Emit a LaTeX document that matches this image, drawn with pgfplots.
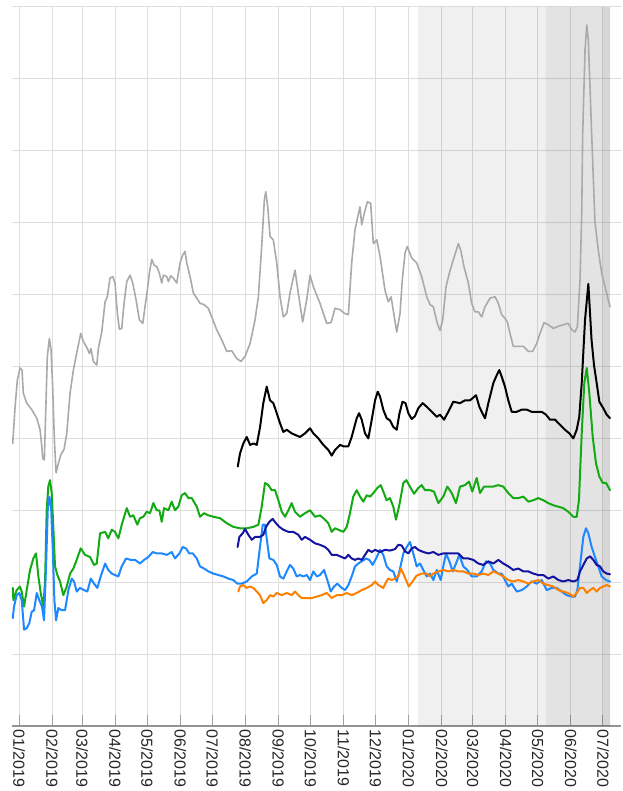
\documentclass[border=0pt]{standalone}
\usepackage{pgfplots}
\pgfplotsset{compat=1.18}
\usepackage{fontspec}
\setmainfont{Liberation Sans}
\definecolor{cgray}{RGB}{170,170,170}
\definecolor{cgreen}{RGB}{20,170,20}
\definecolor{cblue}{RGB}{30,136,255}
\definecolor{cnavy}{RGB}{20,20,160}
\definecolor{corange}{RGB}{255,128,0}
\begin{document}
\begin{tikzpicture}
\begin{axis}[
  at={(0,0)}, anchor=south west, scale only axis,
  width=609pt, height=719pt,
  xmin=-6.6, xmax=563.9, ymin=0, ymax=10,
  axis x line*=bottom, axis y line*=left,
  x axis line style={draw=gray!85, line width=1.5pt, -},
  y axis line style={draw=none},
  xtick={0,31,59,90,120,151,181,212,243,273,304,334,365,396,425,456,486,517,547},
  xticklabels={01/2019,02/2019,03/2019,04/2019,05/2019,06/2019,07/2019,08/2019,09/2019,10/2019,11/2019,12/2019,01/2020,02/2020,03/2020,04/2020,05/2020,06/2020,07/2020},
  ytick={1,2,3,4,5,6,7,8,9,10},
  yticklabels={},
  ytick style={draw=none},
  xtick align=inside,
  major tick length=11pt,
  x tick style={draw=gray!75, line width=1pt},
  grid=major,
  major grid style={draw=black!13, line width=1pt},
  xticklabel style={rotate=-90, anchor=west, font=\fontsize{16}{18}\selectfont, text=black!85},
  every axis plot/.append style={line join=round, line cap=round},
  clip=false,
]
% shaded periods
\addplot[draw=none, fill=black, fill opacity=0.06] coordinates {(373.7,0) (373.7,10) (493.6,10) (493.6,0)} \closedcycle;
\addplot[draw=none, fill=black, fill opacity=0.11] coordinates {(493.6,0) (493.6,10) (547,10) (547,0)} \closedcycle;
\addplot[draw=none, fill=black, fill opacity=0.16] coordinates {(547,0) (547,10) (553.6,10) (553.6,0)} \closedcycle;

% gray
\addplot[cgray, line width=1.6pt] coordinates {
(-5.9,3.93) (-3.7,4.44) (-1.6,4.81) (0.9,4.98) (2.8,4.95) (4.0,4.63) (7.2,4.49) (11.9,4.40) (16.6,4.28) (19.7,4.12) (21.3,3.89) (22.2,3.72) (23.7,3.70) (25.3,4.53) (26.5,5.14) (28.4,5.39) (30.0,5.23) (31.6,4.67) (33.1,3.98) (34.7,3.52) (36.8,3.65) (39.1,3.77) (42.2,3.85) (44.7,4.07) (47.8,4.63) (50.9,4.95) (54.6,5.23) (57.8,5.46) (60.2,5.35) (64.0,5.25) (65.9,5.18) (67.4,5.25) (69.6,5.07) (72.8,5.02) (74.3,5.25) (77.5,5.48) (80.6,5.90) (82.7,5.97) (85.2,6.23) (87.8,6.25) (89.9,6.16) (92.1,5.74) (94.0,5.52) (96.2,5.53) (98.4,5.88) (100.9,6.18) (104.0,6.27) (106.5,6.16) (109.6,5.93) (112.7,5.65) (115.9,5.60) (118.0,5.83) (120.2,6.06) (122.1,6.30) (124.3,6.49) (126.5,6.41) (129.0,6.39) (131.4,6.30) (133.7,6.16) (135.2,6.27) (138.4,6.25) (139.9,6.18) (142.1,6.26) (144.5,6.23) (147.7,6.16) (150.8,6.44) (153.3,6.55) (155.5,6.60) (157.1,6.44) (160.2,6.25) (163.3,6.02) (166.5,5.95) (169.5,5.88) (173.3,5.86) (177.3,5.81) (180.5,5.69) (185.2,5.51) (189.9,5.37) (194.6,5.21) (199.2,5.22) (203.9,5.11) (207.9,5.07) (211.7,5.14) (216.4,5.32) (221.1,5.65) (224.2,5.97) (227.3,6.67) (229.8,7.32) (231.1,7.43) (233.0,7.22) (235.1,6.81) (238.2,6.76) (241.4,6.44) (244.5,5.97) (247.6,5.69) (250.8,5.74) (253.8,6.02) (258.5,6.34) (261.6,6.02) (265.7,5.62) (269.5,5.93) (272.6,6.27) (275.7,6.11) (281.9,5.88) (288.2,5.60) (292.3,5.61) (296.0,5.81) (300.7,5.79) (304.7,5.74) (308.5,5.72) (311.6,6.44) (314.7,6.90) (317.3,7.08) (319.4,7.22) (321.0,6.97) (323.4,7.13) (326.3,7.29) (329.4,7.27) (331.9,6.71) (335.1,6.76) (338.2,6.53) (342.8,6.06) (345.9,5.90) (348.5,5.97) (351.0,5.74) (353.8,5.48) (356.9,5.74) (359.0,6.20) (361.6,6.58) (363.7,6.67) (367.8,6.51) (372.5,6.44) (377.2,6.25) (381.9,5.97) (385.0,5.86) (388.1,5.83) (391.8,5.60) (394.4,5.50) (396.9,5.65) (400.0,6.11) (403.1,6.30) (406.3,6.46) (409.3,6.60) (411.5,6.71) (413.7,6.62) (416.8,6.39) (420.9,6.16) (424.0,5.88) (427.1,5.76) (430.2,5.76) (433.4,5.69) (436.5,5.83) (441.2,5.95) (445.9,5.97) (449.0,5.88) (452.1,5.72) (455.2,5.67) (457.4,5.62) (459.9,5.46) (463.0,5.28) (467.7,5.28) (472.4,5.28) (477.1,5.21) (481.2,5.21) (484.9,5.32) (488.0,5.46) (491.8,5.61) (495.8,5.58) (500.5,5.53) (505.2,5.56) (509.8,5.58) (514.5,5.60) (517.7,5.51) (520.8,5.48) (523.0,5.55) (525.5,6.20) (527.1,7.13) (528.0,8.24) (530.2,9.40) (531.8,9.75) (533.3,9.54) (536.4,8.24) (539.5,7.01) (542.6,6.62) (545.8,6.30) (548.9,6.11) (553.6,5.83)
};

% black
\addplot[black, line width=2pt] coordinates {
(204.9,3.61) (207.0,3.79) (210.1,3.93) (213.3,4.02) (216.4,3.91) (219.5,3.93) (222.7,3.91) (225.8,4.16) (228.8,4.49) (232.0,4.72) (235.1,4.53) (238.2,4.49) (241.4,4.35) (244.5,4.21) (247.6,4.09) (250.8,4.12) (255.4,4.07) (258.5,4.05) (263.2,4.02) (267.9,4.07) (272.6,4.14) (275.7,4.07) (280.4,4.00) (285.0,3.91) (289.7,3.84) (292.9,3.76) (296.0,3.84) (300.7,3.91) (303.8,3.89) (308.5,3.89) (311.6,4.02) (316.3,4.28) (318.5,4.35) (321.0,4.26) (324.1,4.07) (327.2,4.00) (330.4,4.26) (333.5,4.53) (336.0,4.65) (338.2,4.58) (341.2,4.40) (344.4,4.28) (347.5,4.25) (350.6,4.16) (353.8,4.12) (356.4,4.35) (359.2,4.51) (362.0,4.49) (364.7,4.35) (367.8,4.27) (370.9,4.31) (374.0,4.42) (378.1,4.49) (381.9,4.44) (386.6,4.37) (391.3,4.30) (394.4,4.33) (398.1,4.26) (402.1,4.37) (406.8,4.51) (413.1,4.49) (417.8,4.53) (422.5,4.53) (428.1,4.60) (431.2,4.44) (433.4,4.37) (436.5,4.28) (439.6,4.49) (444.3,4.77) (447.5,4.88) (449.9,4.95) (452.1,4.86) (455.2,4.72) (458.3,4.53) (461.5,4.37) (466.2,4.37) (470.9,4.40) (475.6,4.40) (480.2,4.37) (484.9,4.37) (489.6,4.37) (493.6,4.33) (497.4,4.26) (502.1,4.26) (506.8,4.19) (511.4,4.12) (515.5,4.07) (519.2,4.00) (522.4,4.12) (524.8,4.30) (527.1,4.77) (530.2,5.65) (533.3,6.15) (536.3,5.37) (538.6,5.02) (541.1,4.77) (543.6,4.51) (547.3,4.42) (550.5,4.33) (553.6,4.28)
};

% green
\addplot[cgreen, line width=2pt] coordinates {
(-5.9,1.92) (-5.3,1.75) (-2.2,1.89) (0.9,1.94) (2.5,1.87) (4.7,1.66) (7.2,1.89) (10.3,2.17) (13.4,2.33) (15.9,2.40) (18.1,2.08) (20.3,1.85) (22.8,1.66) (24.4,2.03) (25.9,3.00) (27.4,3.33) (29.0,3.42) (30.6,3.24) (32.1,2.77) (33.7,2.22) (35.9,2.10) (38.4,2.01) (41.5,1.82) (44.7,1.94) (47.8,2.12) (50.9,2.19) (54.0,2.31) (57.8,2.47) (61.8,2.38) (66.5,2.35) (70.3,2.24) (72.8,2.26) (75.9,2.68) (80.6,2.70) (83.6,2.61) (86.8,2.73) (89.9,2.70) (93.0,2.61) (96.2,2.80) (100.9,3.03) (104.0,2.91) (107.1,2.93) (110.8,2.80) (113.3,2.89) (116.4,2.91) (119.6,2.98) (122.7,2.96) (125.8,3.10) (129.0,3.00) (131.4,3.00) (133.7,2.84) (135.8,3.03) (139.9,3.00) (143.0,3.12) (146.1,3.00) (149.2,3.05) (152.4,3.21) (155.5,3.24) (158.6,3.17) (161.8,3.17) (166.5,3.05) (169.5,2.91) (173.3,2.96) (177.3,2.93) (182.0,2.91) (188.3,2.89) (194.6,2.82) (200.7,2.77) (207.0,2.75) (213.3,2.75) (219.5,2.77) (224.2,2.80) (227.3,3.05) (230.4,3.38) (233.5,3.35) (236.7,3.28) (239.8,3.28) (242.9,3.14) (246.1,2.98) (249.2,2.91) (252.3,3.00) (255.4,3.10) (258.5,2.98) (263.2,2.91) (267.9,2.96) (272.6,3.00) (277.3,2.91) (281.9,2.93) (286.6,2.87) (289.7,2.82) (292.9,2.70) (296.0,2.75) (299.1,2.73) (303.8,2.70) (307.0,2.77) (310.0,2.96) (313.1,3.19) (316.3,3.28) (319.4,3.19) (322.5,3.12) (325.7,3.21) (328.8,3.19) (331.9,3.24) (335.6,3.31) (338.8,3.35) (341.2,3.26) (344.4,3.14) (347.5,3.17) (350.6,3.05) (353.1,2.87) (356.2,3.07) (360.0,3.38) (362.8,3.42) (366.5,3.32) (370.0,3.23) (374.0,3.31) (377.2,3.35) (380.3,3.28) (385.0,3.28) (388.7,3.26) (392.8,3.10) (397.4,3.19) (401.2,3.33) (405.3,3.24) (409.3,3.10) (413.1,3.33) (417.8,3.35) (421.5,3.40) (424.6,3.26) (428.7,3.45) (431.8,3.24) (435.6,3.33) (439.6,3.33) (444.3,3.33) (449.0,3.35) (453.6,3.33) (458.3,3.24) (463.0,3.17) (467.7,3.17) (472.4,3.19) (477.1,3.12) (481.7,3.14) (486.4,3.17) (491.1,3.14) (495.8,3.10) (500.5,3.07) (505.2,3.05) (509.8,3.03) (514.5,2.98) (519.2,2.91) (522.4,2.91) (524.5,3.14) (527.1,4.07) (529.5,4.77) (531.8,4.98) (534.2,4.63) (537.4,4.02) (540.5,3.65) (543.6,3.47) (546.8,3.38) (549.9,3.38) (553.6,3.28)
};

% light blue
\addplot[cblue, line width=2pt] coordinates {
(-5.9,1.50) (-4.7,1.66) (-2.2,1.82) (0.3,1.85) (2.5,1.75) (4.7,1.34) (7.2,1.36) (9.6,1.43) (11.9,1.59) (14.1,1.61) (16.6,1.85) (19.0,1.75) (21.5,1.66) (23.4,1.47) (25.3,2.22) (26.9,3.00) (28.4,3.19) (30.0,3.05) (31.6,2.45) (33.1,1.75) (34.7,1.47) (36.8,1.64) (40.0,1.61) (43.1,1.61) (46.2,1.89) (49.4,2.05) (51.5,2.01) (54.0,1.87) (57.1,1.92) (60.9,1.89) (64.0,1.87) (67.2,2.05) (70.3,1.98) (73.3,1.92) (76.5,2.08) (80.6,2.26) (83.6,2.17) (86.8,2.12) (89.9,2.10) (93.0,2.08) (96.2,2.22) (100.2,2.33) (104.6,2.31) (108.7,2.31) (113.3,2.26) (117.1,2.31) (121.1,2.35) (125.2,2.42) (129.0,2.40) (133.7,2.40) (138.4,2.38) (143.0,2.42) (146.1,2.33) (150.2,2.40) (153.3,2.49) (156.4,2.47) (159.5,2.40) (162.7,2.40) (166.5,2.33) (169.5,2.22) (173.3,2.19) (177.3,2.15) (182.0,2.12) (186.7,2.10) (191.4,2.08) (196.1,2.05) (200.7,2.03) (204.5,1.98) (208.6,1.98) (213.3,2.01) (218.0,2.08) (222.7,2.12) (225.7,2.49) (228.3,2.80) (230.4,2.80) (232.6,2.54) (234.5,2.33) (238.2,2.31) (241.4,2.24) (244.5,2.08) (247.6,2.05) (250.8,2.15) (253.8,2.24) (256.9,2.19) (260.1,2.08) (263.2,2.10) (266.3,2.08) (269.5,2.10) (272.6,2.03) (275.7,2.15) (278.9,2.08) (281.9,2.10) (285.7,2.17) (288.8,2.03) (292.0,1.87) (295.1,1.94) (298.2,1.98) (302.3,1.92) (305.4,1.89) (308.5,1.96) (311.6,2.08) (314.7,2.22) (317.8,2.26) (321.0,2.29) (325.0,2.33) (328.1,2.31) (331.3,2.24) (335.1,2.35) (338.2,2.45) (341.2,2.38) (344.4,2.22) (347.5,2.17) (350.6,2.15) (353.8,2.01) (356.9,2.19) (360.0,2.40) (363.2,2.49) (366.2,2.56) (369.3,2.40) (372.5,2.22) (375.6,2.26) (378.7,2.17) (381.9,2.08) (385.0,2.12) (388.1,2.03) (391.3,2.17) (395.0,2.03) (397.4,2.22) (400.0,2.40) (403.1,2.29) (406.3,2.15) (409.3,2.26) (412.4,2.38) (416.2,2.22) (419.9,2.17) (424.0,2.08) (428.7,2.08) (433.4,2.15) (437.4,2.29) (441.2,2.26) (444.3,2.17) (449.0,2.12) (452.1,2.12) (455.2,2.03) (458.3,1.94) (461.5,1.98) (466.2,1.87) (470.9,1.89) (475.6,1.94) (480.2,2.01) (484.9,1.98) (489.6,2.03) (494.3,1.89) (499.0,1.92) (503.7,1.92) (508.3,1.87) (513.0,1.82) (517.7,1.80) (520.8,1.80) (523.0,1.89) (525.5,2.22) (528.6,2.63) (531.1,2.75) (533.3,2.68) (536.4,2.49) (539.5,2.35) (542.6,2.22) (545.8,2.08) (549.8,2.03) (553.6,2.01)
};

% navy
\addplot[cnavy, line width=2pt] coordinates {
(204.7,2.49) (206.4,2.63) (209.5,2.68) (211.7,2.74) (214.8,2.66) (218.0,2.59) (221.1,2.63) (225.7,2.63) (228.8,2.66) (231.4,2.77) (234.5,2.84) (237.6,2.88) (240.7,2.82) (243.8,2.77) (247.6,2.73) (252.3,2.70) (256.9,2.70) (261.6,2.66) (264.8,2.59) (267.9,2.63) (272.6,2.59) (277.3,2.54) (281.9,2.52) (286.6,2.49) (289.7,2.45) (292.9,2.38) (297.6,2.38) (302.3,2.35) (305.4,2.33) (308.5,2.38) (311.6,2.33) (314.7,2.31) (317.8,2.33) (321.0,2.31) (324.1,2.38) (327.2,2.45) (330.4,2.42) (333.5,2.45) (338.2,2.42) (342.8,2.45) (347.5,2.44) (352.2,2.46) (355.3,2.52) (358.5,2.51) (361.6,2.43) (364.7,2.40) (367.8,2.47) (370.9,2.49) (374.0,2.45) (378.7,2.42) (383.4,2.40) (388.1,2.42) (392.8,2.38) (397.4,2.40) (402.1,2.40) (406.8,2.40) (411.5,2.40) (416.2,2.33) (420.9,2.33) (425.6,2.31) (430.2,2.26) (434.9,2.24) (439.6,2.29) (444.3,2.26) (449.0,2.31) (453.6,2.26) (458.3,2.22) (463.0,2.17) (467.7,2.19) (472.4,2.15) (477.1,2.15) (481.7,2.12) (486.4,2.10) (491.1,2.10) (495.8,2.05) (500.5,2.08) (505.2,2.03) (509.8,2.01) (514.5,2.03) (519.2,2.01) (523.0,2.03) (525.5,2.15) (528.6,2.24) (531.8,2.33) (534.9,2.36) (538.0,2.31) (541.1,2.24) (544.2,2.22) (547.3,2.15) (550.5,2.12) (553.6,2.11)
};

% orange
\addplot[corange, line width=2pt] coordinates {
(205.4,1.87) (207.0,1.94) (210.1,1.96) (213.3,1.92) (216.4,1.94) (219.5,1.92) (222.7,1.87) (225.7,1.82) (228.8,1.71) (232.0,1.75) (235.1,1.82) (238.2,1.80) (241.4,1.85) (246.1,1.82) (250.8,1.85) (255.4,1.82) (258.5,1.87) (261.6,1.82) (264.8,1.78) (269.5,1.78) (274.2,1.78) (278.9,1.80) (283.5,1.82) (288.2,1.85) (292.9,1.78) (297.6,1.82) (302.3,1.82) (307.0,1.85) (311.6,1.82) (316.3,1.85) (321.0,1.89) (325.7,1.92) (330.4,1.96) (333.5,2.01) (336.6,1.96) (341.2,1.92) (343.8,2.00) (345.9,2.05) (349.1,2.03) (352.2,2.05) (355.3,2.08) (357.8,2.19) (361.1,2.08) (365.1,1.94) (368.6,2.01) (372.3,2.09) (377.2,2.12) (381.9,2.12) (385.0,2.08) (388.1,2.12) (392.8,2.15) (397.4,2.17) (402.1,2.15) (406.8,2.17) (411.5,2.15) (416.2,2.15) (420.9,2.12) (425.6,2.12) (430.2,2.10) (434.9,2.12) (439.6,2.10) (444.3,2.15) (449.0,2.12) (453.6,2.08) (458.3,2.03) (463.0,2.01) (467.7,2.03) (472.4,2.01) (477.1,1.98) (481.7,2.01) (486.4,2.03) (491.1,1.98) (495.8,1.96) (500.5,1.94) (505.2,1.89) (509.8,1.87) (514.5,1.85) (519.2,1.80) (522.4,1.85) (525.5,1.92) (528.6,1.92) (531.8,1.85) (534.9,1.89) (538.0,1.92) (541.1,1.87) (544.2,1.92) (547.3,1.94) (550.5,1.96) (553.6,1.94)
};
\end{axis}
\pgfresetboundingbox
\path[use as bounding box] (-12pt,-65pt) rectangle (610pt,726pt);
\end{tikzpicture}
\end{document}
